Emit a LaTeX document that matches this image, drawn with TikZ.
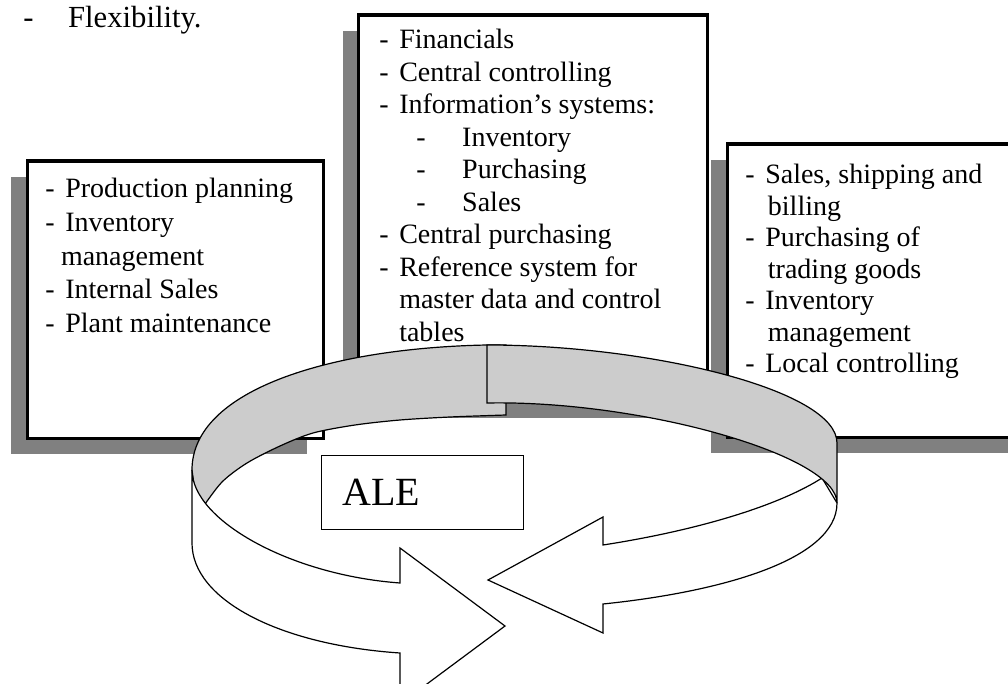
\documentclass[tikz,border=0pt]{standalone}
\usepackage{fontspec}
\setmainfont{Liberation Serif}
\usetikzlibrary{shadows}

\definecolor{shadowgrey}{HTML}{808080}
\definecolor{bandgrey}{HTML}{CCCCCC}
\newcommand{\itemdash}{\makebox[15pt][l]{-}}

\begin{document}
\begin{tikzpicture}[x=0.75pt, y=-0.75pt,
  module/.style={draw, line width=2.4pt, fill=white, anchor=north west, inner sep=0pt,
    drop shadow={shadow xshift=-12pt, shadow yshift=-12pt, fill=shadowgrey, opacity=1}},
  items/.style={anchor=north west, align=left, inner sep=0pt,
    font=\fontsize{21pt}{#1}\selectfont},
  items/.default=24.4pt,
  backband/.style={draw, fill=bandgrey, line width=.9pt},
  frontband/.style={draw, fill=white, line width=.9pt},
  alebox/.style={draw, line width=.9pt, fill=white, anchor=north west,
    minimum width=151.5pt, minimum height=55.5pt, inner xsep=15.75pt,
    text width=120pt, align=left, font=\fontsize{30pt}{36pt}\selectfont}
]
\useasboundingbox (0,0) rectangle (1008,684);

% Last line of the text above
\node[anchor=base west, inner sep=0pt, font=\fontsize{23pt}{27pt}\selectfont] (flex) at (23,28)
  {-\hspace{26pt}Flexibility.};

% Three modules
\node[module, minimum width=222pt, minimum height=208pt] (plant) at (25.5,159.5) {};
\node[items=25.3pt] (plantitems) at (45,178) {\itemdash Production planning\\
  \itemdash Inventory\\\hspace*{11.8pt}management\\\itemdash Internal Sales\\
  \itemdash Plant maintenance};

\node[module, minimum width=261.5pt, minimum height=290pt] (central) at (357,13.5) {};
\node[items] (centralitems) at (379,29) {\itemdash Financials\\\itemdash Central controlling\\
  \itemdash Information’s systems:\\
  \hspace*{27.75pt}\makebox[34.5pt][l]{-}Inventory\\
  \hspace*{27.75pt}\makebox[34.5pt][l]{-}Purchasing\\
  \hspace*{27.75pt}\makebox[34.5pt][l]{-}Sales\\
  \itemdash Central purchasing\\\itemdash Reference system for\\
  \hspace*{15pt}master data and control\\\hspace*{15pt}tables};

\node[module, minimum width=236pt, minimum height=220pt] (sales) at (725.5,142.5) {};
\node[items=23.6pt] (salesitems) at (745,164) {\itemdash Sales, shipping and\\
  \hspace*{17pt}billing\\\itemdash Purchasing of\\\hspace*{17pt}trading goods\\
  \itemdash Inventory\\\hspace*{17pt}management\\\itemdash Local controlling};

% Ring: arrow pointing left
\filldraw[frontband] (822,478) .. controls (780,505) and (700,530) .. (603,545)
  -- (603,517) -- (488,580) -- (603,633) -- (603,604)
  .. controls (720,592) and (837,560) .. (837,503) -- cycle;

% Ring: back, left half
\filldraw[backband] (506,415) -- (506,345) -- (487,345)
  .. controls (330,348) and (192,390) .. (192,470) -- (197,507)
  -- plot[smooth] coordinates {(203,507) (222,482) (247,463) (280,446) (313,433)
    (355,425) (400,420) (450,417) (506,415)} -- cycle;

% Ring: back, right half
\filldraw[backband] (487,403) -- (487,345)
  .. controls (650,345) and (837,390) .. (837,443)
  -- (837,503) .. controls (837,455) and (640,400) .. (487,403) -- cycle;

% Ring: arrow pointing right
\filldraw[frontband] (192,470) -- (192,543)
  .. controls (192,600) and (280,645) .. (400,653)
  -- (400,704) -- (505,626) -- (400,548) -- (400,583)
  .. controls (290,575) and (192,520) .. (192,470) -- cycle;

% Label in the ring
\node[alebox] (ale) at (321,455) {ALE};

\end{tikzpicture}
\end{document}
